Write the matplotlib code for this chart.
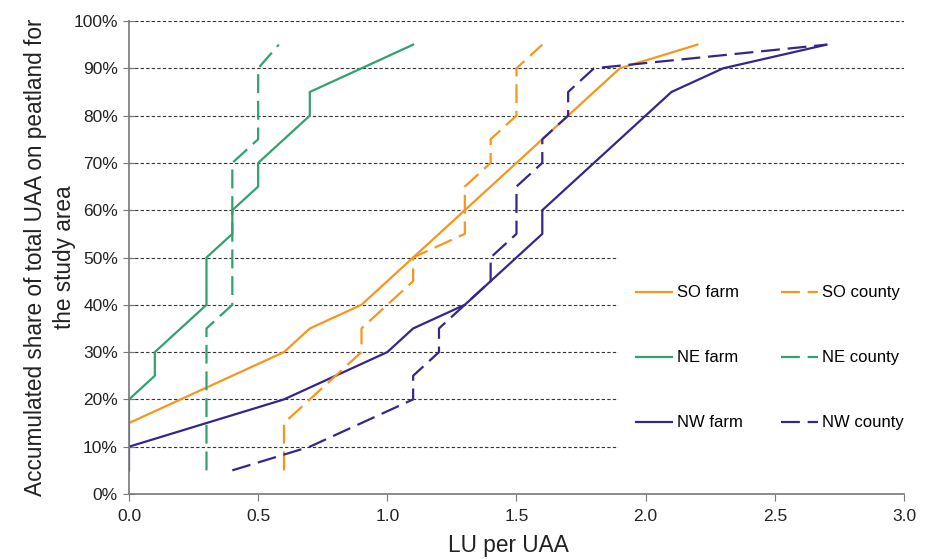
import numpy as np
import matplotlib.pyplot as plt

plt.rcParams['font.family'] = ['Liberation Sans', 'DejaVu Sans']

# LU per UAA (x) vs accumulated share in % (y)
so_farm_x = [0, 0.6, 0.7, 0.9, 1.1, 1.3, 1.5, 1.7, 1.9, 2.2]
so_farm_y = [15, 30, 35, 40, 50, 60, 70, 80, 90, 95]
so_county_x = [0.6, 0.6, 0.9, 0.9, 1.1, 1.1, 1.3, 1.3, 1.4, 1.4, 1.5, 1.5, 1.6]
so_county_y = [5, 15, 30, 35, 45, 50, 55, 65, 70, 75, 80, 90, 95]

ne_farm_x = [0, 0, 0.1, 0.1, 0.3, 0.3, 0.4, 0.4, 0.5, 0.5, 0.7, 0.7, 1.1]
ne_farm_y = [10, 20, 25, 30, 40, 50, 55, 60, 65, 70, 80, 85, 95]
ne_county_x = [0.3, 0.3, 0.4, 0.4, 0.5, 0.5, 0.58]
ne_county_y = [5, 35, 40, 70, 75, 90, 95]

nw_farm_x = [0, 0, 0.3, 0.6, 1.0, 1.1, 1.3, 1.6, 1.6, 2.1, 2.3, 2.7]
nw_farm_y = [5, 10, 15, 20, 30, 35, 40, 55, 60, 85, 90, 95]
nw_county_x = [0.4, 0.7, 1.1, 1.1, 1.2, 1.2, 1.3, 1.4, 1.4, 1.5, 1.5, 1.6, 1.6, 1.7, 1.7, 1.8, 2.7]
nw_county_y = [5, 10, 20, 25, 30, 35, 40, 45, 50, 55, 65, 70, 75, 80, 85, 90, 95]

orange = '#F7961E'
green = '#33A06F'
purple = '#35278A'

fig = plt.figure(figsize=(9.3, 5.59), dpi=100)
ax = fig.add_axes([0.1387, 0.1163, 0.8333, 0.8461])

# gridlines: short ones stop where the legend sits
for yv in range(10, 101, 10):
    xe = 1.893 if yv <= 50 else 3.0
    ax.plot([0, xe], [yv, yv], color='#333333', lw=0.8, dashes=(3, 2), zorder=1)

lw = 1.6
dash = (8.5, 3.5)
h1, = ax.plot(so_farm_x, so_farm_y, color=orange, lw=lw, label='SO farm')
h2, = ax.plot(ne_farm_x, ne_farm_y, color=green, lw=lw, label='NE farm')
h3, = ax.plot(nw_farm_x, nw_farm_y, color=purple, lw=lw, label='NW farm')
h4, = ax.plot(so_county_x, so_county_y, color=orange, lw=lw, dashes=dash, label='SO county')
h5, = ax.plot(ne_county_x, ne_county_y, color=green, lw=lw, dashes=dash, label='NE county')
h6, = ax.plot(nw_county_x, nw_county_y, color=purple, lw=lw, dashes=dash, label='NW county')

ax.set_xlim(0, 3.0)
ax.set_ylim(0, 100)
ax.set_xticks(np.arange(0, 3.01, 0.5))
ax.set_xticklabels(['%.1f' % v for v in np.arange(0, 3.01, 0.5)])
ax.set_yticks(range(0, 101, 10))
ax.set_yticklabels(['%d%%' % v for v in range(0, 101, 10)])
ax.tick_params(axis='both', color='#777777', labelsize=12.5, labelcolor='#222222')
ax.tick_params(axis='x', direction='out', length=5, pad=6)
ax.tick_params(axis='y', direction='inout', length=8, pad=4)

for s in ('top', 'right'):
    ax.spines[s].set_visible(False)
for s in ('left', 'bottom'):
    ax.spines[s].set_color('#777777')
    ax.spines[s].set_linewidth(1.2)

ax.set_xlabel('LU per UAA', fontsize=16.3, color='#222222', labelpad=7, x=0.489)
ax.set_ylabel('Accumulated share of total UAA on peatland for\nthe study area',
              fontsize=16.3, color='#222222', labelpad=-2, linespacing=1.35)

ax.legend(handles=[h1, h2, h3, h4, h5, h6], ncol=2, frameon=False,
          loc='upper left', bbox_to_anchor=(0.654, 0.441), borderaxespad=0,
          borderpad=0, fontsize=12, labelspacing=3.0, handlelength=2.2,
          handletextpad=0.25, columnspacing=2.3)

fig.savefig('out.png', dpi=100)
